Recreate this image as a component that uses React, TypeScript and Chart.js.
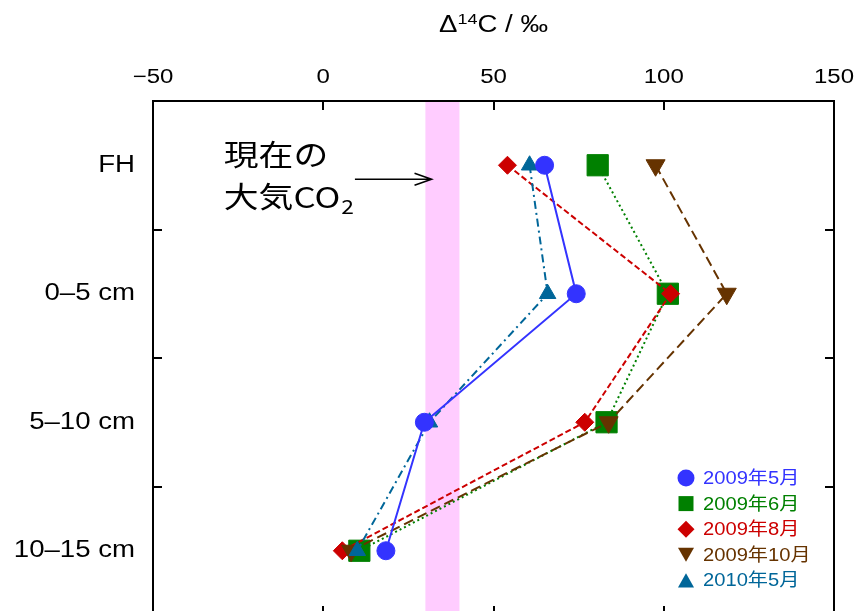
import React, { useEffect, useRef } from 'react';
import { Chart, registerables } from 'chart.js';

Chart.register(...registerables);

// ---- data ----
const depths = ['FH', '0–5 cm', '5–10 cm', '10–15 cm'];
const xTickValues = [-50, 0, 50, 100, 150];
const seriesNames = ['2009年5月', '2009年6月', '2009年8月', '2009年10月', '2010年5月'];
const may2009 = [65, 74.3, 29.7, 18.4];
const jun2009 = [80.6, 101.2, 83.2, 10.6];
const aug2009 = [54.1, 102, 76.8, 5.6];
const oct2009 = [97.6, 118.5, 83.8, 8.2];
const may2010 = [60.6, 65.9, 31.2, 10];
const atmosphereBand = [30, 40];
const annotationLines = ['現在の', '大気CO'];

// ---- styles ----
const FAM = '"Liberation Sans", Arial, "Noto Sans CJK JP", sans-serif';
const CJK = '"Noto Sans CJK JP", sans-serif';
const STRETCH = 1.2; // glyphs in the figure are horizontally widened

type S = {
  name: string; values: number[]; color: string; style: string; radius: number;
  rot: number; dash: number[]; order: number; legendSize: number;
};
const series: S[] = [
  { name: seriesNames[0], values: may2009, color: '#3333ff', style: 'circle', radius: 9, rot: 0, dash: [], order: 1, legendSize: 17 },
  { name: seriesNames[1], values: jun2009, color: '#008000', style: 'rect', radius: 15, rot: 0, dash: [2, 3], order: 5, legendSize: 15 },
  { name: seriesNames[2], values: aug2009, color: '#cc0000', style: 'rectRot', radius: 9, rot: 0, dash: [6, 3], order: 4, legendSize: 17 },
  { name: seriesNames[3], values: oct2009, color: '#663300', style: 'triangle', radius: 11, rot: 180, dash: [10, 5], order: 3, legendSize: 16 },
  { name: seriesNames[4], values: may2010, color: '#006699', style: 'triangle', radius: 9.5, rot: 0, dash: [8, 4, 2, 4], order: 2, legendSize: 16 },
];

const protoFill = CanvasRenderingContext2D.prototype.fillText;
function sText(ctx: CanvasRenderingContext2D, text: string, x: number, y: number) {
  ctx.save();
  ctx.translate(x, y);
  ctx.scale(STRETCH, 1);
  protoFill.call(ctx, text, 0, 0);
  ctx.restore();
}
function sWidth(ctx: CanvasRenderingContext2D, text: string) {
  return ctx.measureText(text).width * STRETCH;
}

function drawMarker(ctx: CanvasRenderingContext2D, style: string, x: number, y: number, size: number, rot: number) {
  ctx.beginPath();
  if (style === 'circle') {
    ctx.arc(x, y, size / 2, 0, Math.PI * 2);
  } else if (style === 'rect') {
    ctx.rect(x - size / 2, y - size / 2, size, size);
  } else if (style === 'rectRot') {
    const h = size / 2;
    ctx.moveTo(x, y - h); ctx.lineTo(x + h, y); ctx.lineTo(x, y + h); ctx.lineTo(x - h, y);
    ctx.closePath();
  } else if (style === 'triangle') {
    const w = size / 2, h = size * 0.88;
    if (rot === 180) {
      ctx.moveTo(x - w, y - h / 2); ctx.lineTo(x + w, y - h / 2); ctx.lineTo(x, y + h / 2);
    } else {
      ctx.moveTo(x - w, y + h / 2); ctx.lineTo(x + w, y + h / 2); ctx.lineTo(x, y - h / 2);
    }
    ctx.closePath();
  }
  ctx.fill();
}

const decorPlugin = {
  id: 'decor',
  beforeDraw(chart: any) {
    // widen the axis tick label glyphs the same way as the figure
    const ctx = chart.ctx as any;
    ctx.fillText = function (text: string, x: number, y: number) {
      sText(this, text, x, y);
    };
  },
  beforeDatasetsDraw(chart: any) {
    const ctx = chart.ctx as any;
    delete ctx.fillText;
    const { chartArea: a, scales } = chart;
    const x = scales.x;
    const x0 = x.getPixelForValue(atmosphereBand[0]);
    const x1 = x.getPixelForValue(atmosphereBand[1]);
    ctx.save();
    ctx.fillStyle = '#ffccff';
    ctx.fillRect(x0, a.top, x1 - x0, a.bottom - a.top);
    ctx.restore();
  },
  afterDraw(chart: any) {
    const { ctx, chartArea: a, scales } = chart;
    const x = scales.x, y = scales.y;
    ctx.save();
    // frame
    ctx.strokeStyle = '#000';
    ctx.lineWidth = 2;
    ctx.strokeRect(a.left, a.top, a.right - a.left, a.bottom - a.top);
    const tl = 9;
    ctx.beginPath();
    xTickValues.forEach((v) => {
      const px = Math.round(x.getPixelForValue(v));
      ctx.moveTo(px, a.top); ctx.lineTo(px, a.top + tl);
      ctx.moveTo(px, a.bottom); ctx.lineTo(px, a.bottom - tl);
    });
    for (let i = 0; i < depths.length - 1; i++) {
      const py = Math.round((y.getPixelForValue(i) + y.getPixelForValue(i + 1)) / 2);
      ctx.moveTo(a.left, py); ctx.lineTo(a.left + tl, py);
      ctx.moveTo(a.right, py); ctx.lineTo(a.right - tl, py);
    }
    ctx.stroke();

    // axis title Δ14C / ‰
    ctx.fillStyle = '#000';
    ctx.textBaseline = 'alphabetic';
    ctx.textAlign = 'left';
    const big = `23px ${FAM}`, small = `15px ${FAM}`;
    ctx.font = big; const wD = sWidth(ctx, 'Δ'); const wR = sWidth(ctx, 'C / ‰');
    ctx.font = small; const wS = sWidth(ctx, '14');
    let tx = (a.left + a.right) / 2 - (wD + wS + wR) / 2;
    const tb = 32;
    ctx.font = big; sText(ctx, 'Δ', tx, tb); tx += wD;
    ctx.font = small; sText(ctx, '14', tx, tb - 8); tx += wS;
    ctx.font = big; sText(ctx, 'C / ‰', tx, tb);

    // annotation: current atmospheric CO2
    const fy = y.getPixelForValue(0);
    const ax = x.getPixelForValue(-29.2);
    ctx.font = `29px ${CJK}`;
    ctx.textBaseline = 'middle';
    sText(ctx, annotationLines[0], ax, fy - 10);
    sText(ctx, annotationLines[1], ax, fy + 32);
    const wCO = sWidth(ctx, annotationLines[1]);
    ctx.font = `19px ${CJK}`;
    sText(ctx, '2', ax + wCO + 1, fy + 42);
    const arStart = x.getPixelForValue(9.3), arEnd = x.getPixelForValue(31.8);
    const ay = fy + 14;
    ctx.lineWidth = 1.6;
    ctx.beginPath();
    ctx.moveTo(arStart, ay); ctx.lineTo(arEnd, ay);
    ctx.moveTo(arEnd - 17, ay - 6); ctx.lineTo(arEnd, ay); ctx.lineTo(arEnd - 17, ay + 6);
    ctx.stroke();

    // legend
    const lx = a.right - 148;
    const ly0 = a.top + 377;
    ctx.font = `18px ${FAM}`;
    ctx.textBaseline = 'middle';
    series.forEach((s, i) => {
      const ly = ly0 + i * 25.6;
      ctx.fillStyle = s.color;
      drawMarker(ctx, s.style, lx, ly, s.legendSize, s.rot);
      ctx.save();
      ctx.translate(lx + 17, ly + 1);
      ctx.scale(1.12, 1);
      protoFill.call(ctx, s.name, 0, 0);
      ctx.restore();
    });
    ctx.restore();
  },
};

export default function App() {
  const ref = useRef<HTMLCanvasElement>(null);
  useEffect(() => {
    const chart = new Chart(ref.current as HTMLCanvasElement, {
      type: 'line',
      data: {
        datasets: series.map((s) => ({
          label: s.name,
          data: s.values.map((v, i) => ({ x: v, y: depths[i] })),
          borderColor: s.color,
          backgroundColor: s.color,
          borderWidth: 2,
          borderDash: s.dash,
          pointStyle: s.style as any,
          pointRadius: s.radius,
          pointRotation: s.rot,
          pointBackgroundColor: s.color,
          pointBorderColor: s.color,
          pointBorderWidth: 1,
          tension: 0,
          fill: false,
          order: s.order,
        })),
      },
      options: {
        responsive: false,
        animation: false,
        events: [],
        layout: { padding: { left: 0, right: 24, top: 0, bottom: 6 } },
        plugins: { legend: { display: false }, tooltip: { enabled: false } },
        scales: {
          x: {
            type: 'linear',
            position: 'top',
            min: -50,
            max: 150,
            afterBuildTicks: (s: any) => { s.ticks = xTickValues.map((v) => ({ value: v })); },
            afterFit: (s: any) => { s.height = 101; s.paddingLeft = 0; s.paddingRight = 0; },
            grid: { display: false, drawTicks: false },
            border: { display: false },
            ticks: {
              color: '#000',
              font: { family: FAM, size: 20 },
              padding: 12,
              maxRotation: 0,
              callback: (v: any) => (Number(v) < 0 ? '−' + Math.abs(Number(v)) : String(v)),
            },
          },
          y: {
            type: 'category',
            labels: depths,
            offset: true,
            position: 'left',
            afterFit: (s: any) => { s.width = 153; s.paddingTop = 0; s.paddingBottom = 0; },
            grid: { display: false, drawTicks: false },
            border: { display: false },
            ticks: { color: '#000', font: { family: FAM, size: 23 }, padding: 18 },
          },
        },
      },
      plugins: [decorPlugin],
    } as any);
    return () => chart.destroy();
  }, []);
  return (
    <div style={{ position: 'fixed', left: 0, top: 0, width: 858, height: 611, overflow: 'hidden', background: '#fff' }}>
      <canvas ref={ref} width={858} height={631} style={{ display: 'block' }} />
    </div>
  );
}
